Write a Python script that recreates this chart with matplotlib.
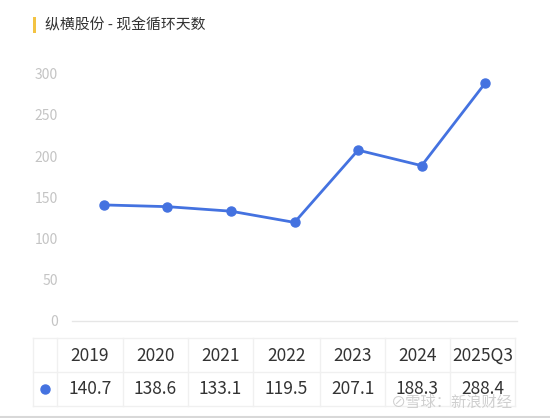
import matplotlib
matplotlib.use("Agg")
import matplotlib.pyplot as plt
from matplotlib.lines import Line2D
from matplotlib.patches import Rectangle

plt.rcParams['font.family'] = ['Noto Sans CJK SC', 'DejaVu Sans']

# data
title = "纵横股份 - 现金循环天数"
periods = ["2019", "2020", "2021", "2022", "2023", "2024", "2025Q3"]
days = [140.7, 138.6, 133.1, 119.5, 207.1, 188.3, 288.4]
yticks = [0, 50, 100, 150, 200, 250, 300]

W, H = 550, 418
blue = "#4472e0"

fig = plt.figure(figsize=(W / 100, H / 100), dpi=100)
fig.patch.set_facecolor("white")


def fx(px):
    return px / W


def fy(py):
    return 1 - py / H


# title with yellow bar
fig.patches.append(Rectangle((fx(33), fy(33)), 3 / W, 16 / H, transform=fig.transFigure,
                             facecolor="#f3c343", edgecolor="none"))
fig.text(fx(45), fy(25), title, fontsize=10.7, color="#333333", va="center", ha="left",
         fontweight="medium")

# line chart
ax = fig.add_axes([fx(72), fy(321), fx(517) - fx(72), (321 - 73.5) / H])
x = list(range(len(periods)))
ax.plot(x, days, color=blue, lw=2, marker="o", ms=6.5, zorder=3)
ax.set_xlim(-0.5, len(periods) - 0.5)
ax.set_ylim(0, 300)
ax.set_yticks(yticks)
ax.set_yticklabels([str(v) for v in yticks], color="#c4c4c4", fontsize=10)
ax.tick_params(axis="y", length=0, pad=10)
ax.set_xticks([])
for s in ["top", "right", "left"]:
    ax.spines[s].set_visible(False)
ax.spines["bottom"].set_color("#e6e6e6")
ax.spines["bottom"].set_linewidth(1)
ax.set_facecolor("none")

# table below
col_edges = [33, 57, 123, 188, 253, 320, 385, 450, 515]
row_edges = [338, 372, 406]
grid_c = "#f0f0f0"
for r in row_edges:
    fig.add_artist(Line2D([fx(col_edges[0]), fx(col_edges[-1])], [fy(r), fy(r)],
                          transform=fig.transFigure, color=grid_c, lw=1))
for c in col_edges:
    fig.add_artist(Line2D([fx(c), fx(c)], [fy(row_edges[0]), fy(row_edges[-1])],
                          transform=fig.transFigure, color=grid_c, lw=1))

for i, (p, v) in enumerate(zip(periods, days)):
    cx = (col_edges[i + 1] + col_edges[i + 2]) / 2
    fig.text(fx(cx), fy(356), p, ha="center", va="center", fontsize=12.5, color="#333333")
    fig.text(fx(cx), fy(389), f"{v:.1f}", ha="center", va="center", fontsize=12.5, color="#333333")

fig.add_artist(Line2D([fx(45)], [fy(389)], transform=fig.transFigure, marker="o",
                      ms=6.5, color=blue, lw=0))

# watermark
fig.text(fx(512), fy(402), "⊘雪球：新浪财经", ha="right", va="center", fontsize=11,
         color="#c4c4c4", alpha=0.8, family=['Noto Sans CJK SC', 'DejaVu Sans'])

# bottom edge line
fig.add_artist(Line2D([0, 1], [fy(416.5), fy(416.5)], transform=fig.transFigure,
                      color="#d8d8d8", lw=1.5))

fig.savefig("out.png", dpi=100, facecolor="white")
